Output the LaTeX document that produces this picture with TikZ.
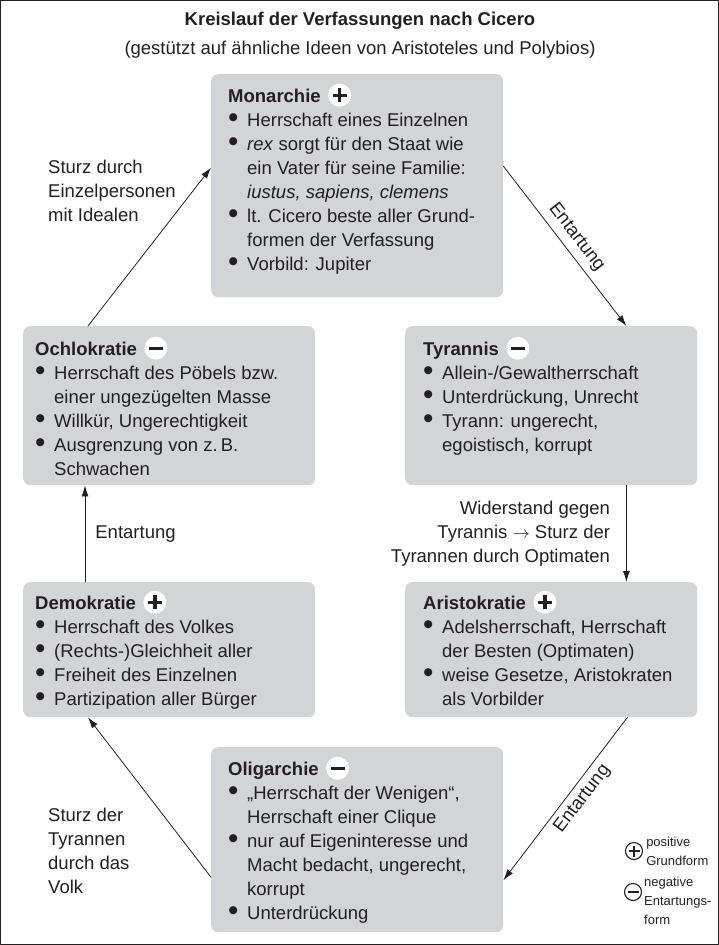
\documentclass[tikz,border=0pt]{standalone}
\usepackage{fontspec}
\usepackage{graphicx}
\setmainfont{Liberation Sans}
\usetikzlibrary{arrows.meta,positioning}

\definecolor{boxgray}{RGB}{211,212,214}
\definecolor{ink}{RGB}{35,31,32}
\newcommand{\itm}{\makebox[19pt][l]{\raisebox{-1.6pt}{\scalebox{1.6}{\textbullet}}}}
\newcommand{\cnt}{\hspace*{19pt}}
\newcommand{\lines}[1]{\parbox[t]{270pt}{#1}}

\begin{document}
\fontsize{18.5}{24}\selectfont
\begin{tikzpicture}[x=1pt,y=-1pt,>={Latex[length=11pt,width=7pt]},line cap=round,line join=round,
    text=ink,
    panel/.style={fill=boxgray,rounded corners=7pt,anchor=north west,minimum width=292pt,inner sep=0pt},
    head/.style={anchor=base west,inner sep=0pt,font=\bfseries,text height=13.5pt,text depth=0pt},
    items/.style={anchor=base west,inner sep=0pt},
    badge/.style={circle,fill=white,minimum size=23pt,inner sep=0pt},
    plusbadge/.style={badge,path picture={
      \draw[ink,line width=3.4pt,line cap=butt]
        ([xshift=-7pt]path picture bounding box.center) -- ([xshift=7pt]path picture bounding box.center)
        ([yshift=-7pt]path picture bounding box.center) -- ([yshift=7pt]path picture bounding box.center);}},
    minusbadge/.style={badge,path picture={
      \draw[ink,line width=3.4pt,line cap=butt]
        ([xshift=-7pt]path picture bounding box.center) -- ([xshift=7pt]path picture bounding box.center);}},
    legplus/.style={badge,draw=ink,line width=1.1pt,minimum size=17pt,path picture={
      \draw[ink,line width=2.6pt,line cap=butt]
        ([xshift=-5.5pt]path picture bounding box.center) -- ([xshift=5.5pt]path picture bounding box.center)
        ([yshift=-5.5pt]path picture bounding box.center) -- ([yshift=5.5pt]path picture bounding box.center);}},
    legminus/.style={badge,draw=ink,line width=1.1pt,minimum size=17pt,path picture={
      \draw[ink,line width=2.6pt,line cap=butt]
        ([xshift=-5.5pt]path picture bounding box.center) -- ([xshift=5.5pt]path picture bounding box.center);}},
    legtxt/.style={inner sep=0pt,align=left,font=\fontsize{13}{19}\selectfont},
    flow/.style={->,draw=ink,line width=0.8pt},
    lbl/.style={inner sep=0pt,align=left}]
  \useasboundingbox (0,0) rectangle (719,945);
  \draw[ink,line width=1.3pt] (0.65,0.65) rectangle (718.35,944.35);

  \node[anchor=base,font=\bfseries] (title) at (360,25) {Kreislauf der Verfassungen nach Cicero};
  \node[anchor=base] (subtitle) at (360,54) {(gestützt auf ähnliche Ideen von Aristoteles und Polybios)};

  \node[panel,minimum height=223pt] (mon) at (211,74) {};
  \node[head] (mon-h) at (228,102) {Monarchie};
  \node[plusbadge,right=7pt of mon-h] (mon-s) {};
  \node[items] (mon-l) at (228,126) {\lines{\itm Herrschaft eines Einzelnen\\
    \itm \textit{rex} sorgt für den Staat wie\\
    \cnt ein Vater für seine Familie:\\
    \cnt \textit{iustus, sapiens, clemens}\\
    \itm lt. Cicero beste aller Grund-\\
    \cnt formen der Verfassung\\
    \itm Vorbild: Jupiter}};

  \node[panel,minimum height=159pt] (och) at (23,326) {};
  \node[head] (och-h) at (35,355) {Ochlokratie};
  \node[minusbadge,right=7pt of och-h] (och-s) {};
  \node[items] (och-l) at (35,379) {\lines{\itm Herrschaft des Pöbels bzw.\\
    \cnt einer ungezügelten Masse\\
    \itm Willkür, Ungerechtigkeit\\
    \itm Ausgrenzung von z.\,B.\\
    \cnt Schwachen}};

  \node[panel,minimum height=159pt] (tyr) at (405,326) {};
  \node[head] (tyr-h) at (423,355) {Tyrannis};
  \node[minusbadge,right=7pt of tyr-h] (tyr-s) {};
  \node[items] (tyr-l) at (423,379) {\lines{\itm Allein-/Gewaltherrschaft\\
    \itm Unterdrückung, Unrecht\\
    \itm Tyrann: ungerecht,\\
    \cnt egoistisch, korrupt}};

  \node[panel,minimum height=135pt] (dem) at (23,582) {};
  \node[head] (dem-h) at (35,609) {Demokratie};
  \node[plusbadge,right=7pt of dem-h] (dem-s) {};
  \node[items] (dem-l) at (35,633) {\lines{\itm Herrschaft des Volkes\\
    \itm (Rechts-)Gleichheit aller\\
    \itm Freiheit des Einzelnen\\
    \itm Partizipation aller Bürger}};

  \node[panel,minimum height=135pt] (ari) at (405,582) {};
  \node[head] (ari-h) at (423,609) {Aristokratie};
  \node[plusbadge,right=7pt of ari-h] (ari-s) {};
  \node[items] (ari-l) at (423,633) {\lines{\itm Adelsherrschaft, Herrschaft\\
    \cnt der Besten (Optimaten)\\
    \itm weise Gesetze, Aristokraten\\
    \cnt als Vorbilder}};

  \node[panel,minimum height=185pt] (oli) at (211,747) {};
  \node[head] (oli-h) at (228,775) {Oligarchie};
  \node[minusbadge,right=7pt of oli-h] (oli-s) {};
  \node[items] (oli-l) at (228,799) {\lines{\itm „Herrschaft der Wenigen“,\\
    \cnt Herrschaft einer Clique\\
    \itm nur auf Eigeninteresse und\\
    \cnt Macht bedacht, ungerecht,\\
    \cnt korrupt\\
    \itm Unterdrückung}};

  \draw[flow] ([xshift=65pt]och.north west) -- ([yshift=18pt]mon.west);
  \draw[flow] ([yshift=19.5pt]mon.east) -- node[midway,sloped,above=6pt,lbl] {Entartung} ([xshift=-71pt]tyr.north east);
  \draw[flow] ([xshift=-71pt]tyr.south east) -- node[midway,left=16pt,lbl,align=right] {Widerstand gegen\\Tyrannis $\rightarrow$ Sturz der\\Tyrannen durch Optimaten} ([xshift=-71pt]ari.north east);
  \draw[flow] ([xshift=-70pt]ari.south east) -- node[pos=0.45,sloped,below=5pt,lbl] {Entartung} ([yshift=-40.5pt]oli.east);
  \draw[flow] ([yshift=-37.5pt]oli.west) -- ([xshift=65pt]dem.south west);
  \draw[flow] ([xshift=62pt]dem.north west) -- node[midway,right=10pt,lbl] {Entartung} ([xshift=62pt]och.south west);

  \node[items] (l-ideal) at (48,173) {\lines{Sturz durch\\Einzelpersonen\\mit Idealen}};
  \node[items] (l-volk) at (48,821) {\lines{Sturz der\\Tyrannen\\durch das\\Volk}};

  \node[legplus] (lp) at (634,851) {};
  \node[legtxt,right=3pt of lp] (lp-t) {positive\\Grundform};
  \node[legminus] (lm) at (633,892) {};
  \node[legtxt,anchor=north west] (lm-t) at (644,877) {negative\\Entartungs-\\form};
\end{tikzpicture}
\end{document}
